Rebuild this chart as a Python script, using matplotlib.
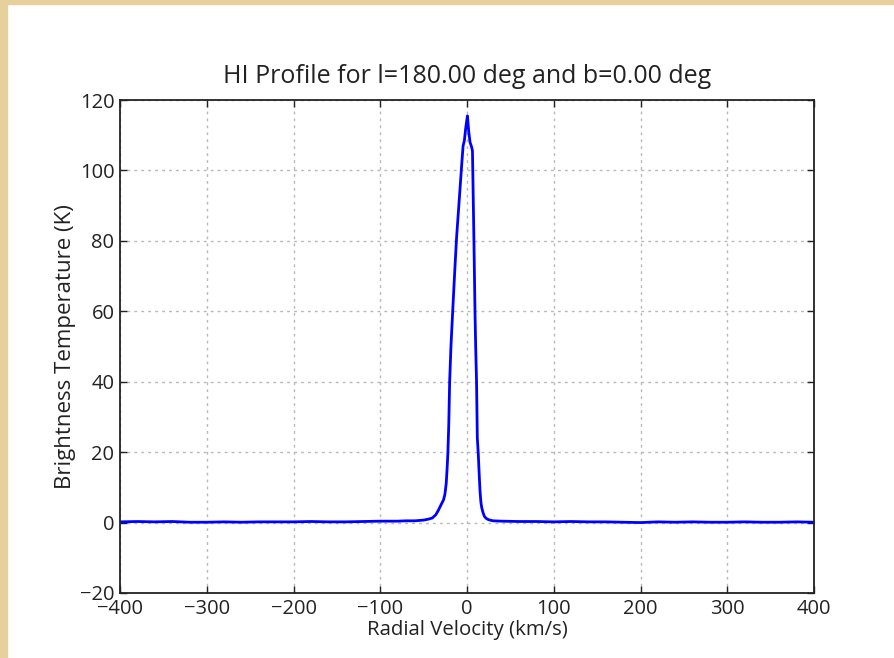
import matplotlib
matplotlib.use('Agg')
import matplotlib.pyplot as plt
from matplotlib.patches import Rectangle

plt.rcParams['font.family'] = ['Open Sans', 'DejaVu Sans']
plt.rcParams['axes.unicode_minus'] = True

# HI spectrum toward l=180, b=0
velocity = [-400, -380, -360, -340, -320, -300, -280, -260, -240, -220,
            -200, -180, -160, -140, -120, -100, -80, -70, -60, -50,
            -44, -40, -36, -33, -30, -27, -25.5, -24, -23, -22,
            -21, -20, -18.5, -16.5, -14, -12, -10, -8, -6, -4.5,
            -3, -1.5, 0.5, 2, 3.5, 5.5, 6.3, 7, 8, 9.2,
            10, 11, 11.9, 13, 14, 15, 16, 17, 18.5, 20,
            22, 25, 30, 40, 60, 80, 100, 120, 140, 160,
            180, 200, 220, 240, 260, 280, 300, 320, 340, 360,
            380, 400]
temperature = [0.2, 0.3, 0.2, 0.3, 0.1, 0.1, 0.2, 0.1, 0.2, 0.2,
               0.2, 0.3, 0.2, 0.2, 0.3, 0.4, 0.4, 0.5, 0.5, 0.7,
               1.0, 1.3, 2.2, 3.5, 5.0, 6.5, 8.0, 11.0, 15.0, 20.0,
               28.0, 40.0, 50.0, 60.0, 72.0, 81.0, 88.0, 95.0, 102.0, 107.0,
               108.5, 112.0, 115.5, 111.0, 108.0, 106.5, 105.5, 95.0, 80.0, 60.0,
               50.0, 40.0, 24.0, 19.5, 14.0, 9.0, 5.8, 4.2, 2.8, 1.8,
               1.2, 0.8, 0.5, 0.4, 0.3, 0.3, 0.2, 0.3, 0.2, 0.2,
               0.1, 0.0, 0.2, 0.1, 0.2, 0.1, 0.1, 0.2, 0.1, 0.1,
               0.2, 0.1]

xticks = [-400, -300, -200, -100, 0, 100, 200, 300, 400]
yticks = [-20, 0, 20, 40, 60, 80, 100, 120]


def main():
    fig = plt.figure(figsize=(8.94, 6.58), dpi=100)

    # parchment frame along the top and left edges
    fig.patches.append(Rectangle((0, 0), 7 / 894, 1, transform=fig.transFigure,
                                 color='#e6d09c', zorder=0))
    fig.patches.append(Rectangle((0, 1 - 4 / 658), 1, 4 / 658, transform=fig.transFigure,
                                 color='#e6d09c', zorder=0))

    ax = fig.add_axes([120 / 894, 1 - 593 / 658, 694 / 894, 493 / 658])
    ax.plot(velocity, temperature, color='b', lw=2.0)

    ax.set_xlim(-400, 400)
    ax.set_ylim(-20, 120)
    ax.set_xticks(xticks)
    ax.set_yticks(yticks)
    ax.grid(True, color='#b8b8b8', linestyle=(0, (2, 3)), linewidth=1.0)
    ax.tick_params(direction='in', length=5, width=1, top=True, right=True,
                   labelsize=14.5, colors='#222222', pad=4)
    for s in ax.spines.values():
        s.set_linewidth(1.3)
        s.set_color('#222222')

    ax.set_title('HI Profile for l=180.00 deg and b=0.00 deg', fontsize=18, pad=12,
                 color='#222222')
    ax.set_xlabel('Radial Velocity (km/s)', fontsize=14.7, color='#222222', labelpad=1)
    ax.set_ylabel('Brightness Temperature (K)', fontsize=16, color='#222222', labelpad=3)

    fig.savefig('out.png', dpi=100)


if __name__ == '__main__':
    main()
